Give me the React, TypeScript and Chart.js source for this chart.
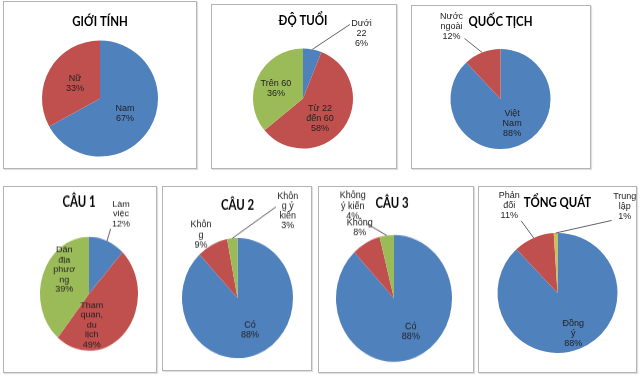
import { useEffect, useRef } from 'react';
import { Chart, registerables } from 'chart.js';
Chart.register(...registerables);

// ---- data ----
const genderTitle = 'GIỚI TÍNH';
const genderLines = [['Nam'], ['Nữ']];
const genderValues = [67, 33];

const ageTitle = 'ĐỘ TUỔI';
const ageLines = [['Dưới', '22'], ['Từ 22', 'đến 60'], ['Trên 60']];
const ageValues = [6, 58, 36];

const nationTitle = 'QUỐC TỊCH';
const nationLines = [['Việt', 'Nam'], ['Nước', 'ngoài']];
const nationValues = [88, 12];

const q1Title = 'CÂU 1';
const q1Lines = [['Làm', 'việc'], ['Tham', 'quan,', 'du', 'lịch'], ['Dân', 'địa', 'phươ', 'ng']];
const q1Values = [12, 49, 39];

const q2Title = 'CÂU 2';
const q2Lines = [['Có'], ['Khôn', 'g'], ['Khôn', 'g ý', 'kiến']];
const q2Values = [88, 9, 3];

const q3Title = 'CÂU 3';
const q3Lines = [['Có'], ['Không'], ['Không', 'ý kiến']];
const q3Values = [88, 8, 4];

const totalTitle = 'TỔNG QUÁT';
const totalLines = [['Đồng', 'ý'], ['Phản', 'đối'], ['Trung', 'lập']];
const totalValues = [88, 11, 1];

// ---- styling / layout ----
const BLUE = '#4F81BD';
const RED = '#C0504D';
const GREEN = '#9BBB59';
const OLIVE = '#cfc04a';

type Place = { k: number; a?: number; lead?: boolean; ay?: number };
type Slot = {
  title: string;
  lines: string[][];
  values: number[];
  colors: string[];
  box: { x: number; y: number; w: number; h: number };
  pie: { cx: number; cy: number; rx: number; ry: number };
  titleX?: number;
  titleY: number;
  place: Place[];
};

const slots: Slot[] = [
  {
    title: genderTitle, lines: genderLines, values: genderValues, colors: [BLUE, RED],
    box: { x: 3, y: 1, w: 194, h: 168 }, pie: { cx: 100, cy: 98.5, rx: 58, ry: 58 }, titleY: 22,
    place: [{ k: 0.5 }, { k: 0.5 }],
  },
  {
    title: ageTitle, lines: ageLines, values: ageValues, colors: [BLUE, RED, GREEN],
    box: { x: 211, y: 4, w: 186, h: 165 }, pie: { cx: 303, cy: 98.5, rx: 50, ry: 50 }, titleY: 21,
    place: [{ k: 1.75, a: 42, lead: true, ay: -0.6 }, { k: 0.53, a: 140 }, { k: 0.58, a: 291 }],
  },
  {
    title: nationTitle, lines: nationLines, values: nationValues, colors: [BLUE, RED],
    box: { x: 411, y: 5, w: 180, h: 164 }, pie: { cx: 500.5, cy: 99, rx: 50, ry: 50 }, titleY: 22,
    place: [{ k: 0.55, a: 155 }, { k: 1.75, a: 326, lead: true, ay: 0.8 }],
  },
  {
    title: q1Title, lines: q1Lines, values: q1Values, colors: [BLUE, RED, GREEN],
    box: { x: 3, y: 186, w: 154, h: 187 }, pie: { cx: 89, cy: 294, rx: 49, ry: 57 }, titleX: 79, titleY: 202,
    place: [{ k: 1.55, a: 25, lead: true, ay: 1 }, { k: 0.55, a: 174 }, { k: 0.66, a: 310 }],
  },
  {
    title: q2Title, lines: q2Lines, values: q2Values, colors: [BLUE, RED, GREEN],
    box: { x: 162, y: 186, w: 150, h: 185 }, pie: { cx: 237.5, cy: 298, rx: 55.5, ry: 60 }, titleY: 205,
    place: [{ k: 0.58, a: 157 }, { k: 1.24, a: 328 }, { k: 1.71, a: 32, lead: true, ay: -0.2 }],
  },
  {
    title: q3Title, lines: q3Lines, values: q3Values, colors: [BLUE, RED, GREEN],
    box: { x: 318, y: 186, w: 156, h: 187 }, pie: { cx: 394, cy: 298.5, rx: 58, ry: 63.5 }, titleX: 392, titleY: 203,
    place: [{ k: 0.6, a: 151 }, { k: 1.26, a: 332 }, { k: 1.62, a: 334, lead: true, ay: 1.2 }],
  },
  {
    title: totalTitle, lines: totalLines, values: totalValues, colors: [BLUE, RED, OLIVE],
    box: { x: 478, y: 186, w: 159, h: 187 }, pie: { cx: 557.5, cy: 293, rx: 60, ry: 60 }, titleY: 203,
    place: [{ k: 0.73, a: 159 }, { k: 1.66, a: 331, lead: true, ay: 1 }, { k: 1.82, a: 38, lead: true, ay: 0.9 }],
  },
];

const LABEL_FONT = '9px "Liberation Sans", Arial, sans-serif';
const LINE_H = 10;
const TITLE_FONT = 'bold 13px Lato, "Liberation Sans", sans-serif';
const TITLE_SQUEEZE = 0.88;

function makeLabelPlugin(slot: Slot, s: number) {
  return {
    id: 'sliceLabels',
    afterDatasetsDraw(chart: any) {
      const ctx: CanvasRenderingContext2D = chart.ctx;
      const meta = chart.getDatasetMeta(0);
      const lineH = LINE_H / s;
      ctx.save();
      // title
      ctx.font = TITLE_FONT;
      ctx.fillStyle = '#000';
      ctx.textAlign = 'center';
      ctx.textBaseline = 'middle';
      ctx.save();
      ctx.translate((slot.titleX ?? slot.pie.cx) - slot.box.x, (slot.titleY - slot.box.y) / s);
      ctx.scale(TITLE_SQUEEZE, 1);
      ctx.fillText(slot.title, 0, 0);
      ctx.restore();
      // slice labels
      ctx.font = LABEL_FONT;
      meta.data.forEach((arc: any, i: number) => {
        const { x, y, startAngle, endAngle, outerRadius } = arc.getProps(
          ['x', 'y', 'startAngle', 'endAngle', 'outerRadius'], true);
        const p = slot.place[i];
        const mid = (startAngle + endAngle) / 2;
        const ang = p.a !== undefined ? ((p.a - 90) * Math.PI) / 180 : mid;
        const lx = x + Math.cos(ang) * outerRadius * p.k;
        const ly = y + Math.sin(ang) * outerRadius * p.k;
        const lines = [...slot.lines[i], `${slot.values[i]}%`];
        const h = lines.length * lineH;
        const w = Math.max(...lines.map((l) => ctx.measureText(l).width));
        if (p.lead) {
          const ex = x + Math.cos(mid) * outerRadius;
          const ey = y + Math.sin(mid) * outerRadius;
          const tx = lx > ex ? lx - w / 2 - 1.5 : lx + w / 2 + 1.5;
          const ty = ly + ((p.ay ?? 1) * h) / 2;
          ctx.strokeStyle = '#3a3a3a';
          ctx.lineWidth = 0.8;
          ctx.beginPath();
          ctx.moveTo(ex, ey);
          ctx.lineTo(tx, ty);
          ctx.stroke();
        }
        ctx.fillStyle = '#222';
        lines.forEach((l, j) => {
          ctx.save();
          ctx.translate(lx, ly - h / 2 + lineH * (j + 0.5));
          ctx.scale(1, 1 / s);
          ctx.fillText(l, 0, 0);
          ctx.restore();
        });
      });
      ctx.restore();
    },
  };
}

function PieBox({ slot }: { slot: Slot }) {
  const ref = useRef<HTMLCanvasElement>(null);
  const { box, pie } = slot;
  const s = pie.ry / pie.rx;
  const innerH = Math.round(box.h / s);
  useEffect(() => {
    if (!ref.current) return;
    const r = pie.rx;
    const cyI = (pie.cy - box.y) / s;
    const chart = new Chart(ref.current, {
      type: 'pie',
      data: {
        labels: slot.lines.map((l) => l.join(' ')),
        datasets: [{ data: slot.values, backgroundColor: slot.colors, borderWidth: 0 }],
      },
      options: {
        responsive: false,
        animation: false,
        events: [],
        layout: {
          padding: {
            left: pie.cx - r - box.x,
            right: box.x + box.w - (pie.cx + r),
            top: cyI - r,
            bottom: innerH - (cyI + r),
          },
        },
        plugins: {
          legend: { display: false },
          tooltip: { enabled: false },
          title: { display: false },
        },
      },
      plugins: [makeLabelPlugin(slot, s)],
    });
    return () => chart.destroy();
  }, [slot]);
  return (
    <div
      style={{
        position: 'absolute',
        left: box.x,
        top: box.y,
        width: box.w,
        height: box.h,
        boxSizing: 'border-box',
        border: '1px solid #b4b4b4',
        boxShadow: '1px 1px 1px rgba(0,0,0,0.12)',
        background: '#fff',
      }}
    >
      <canvas
        ref={ref}
        width={box.w}
        height={innerH}
        style={{ position: 'absolute', left: -1, top: -1, width: box.w, height: box.h }}
      />
    </div>
  );
}

export default function App() {
  return (
    <div style={{ position: 'absolute', left: 0, top: 0, width: 640, height: 377, background: '#fff', overflow: 'hidden' }}>
      {slots.map((s, i) => (
        <PieBox key={i} slot={s} />
      ))}
    </div>
  );
}
